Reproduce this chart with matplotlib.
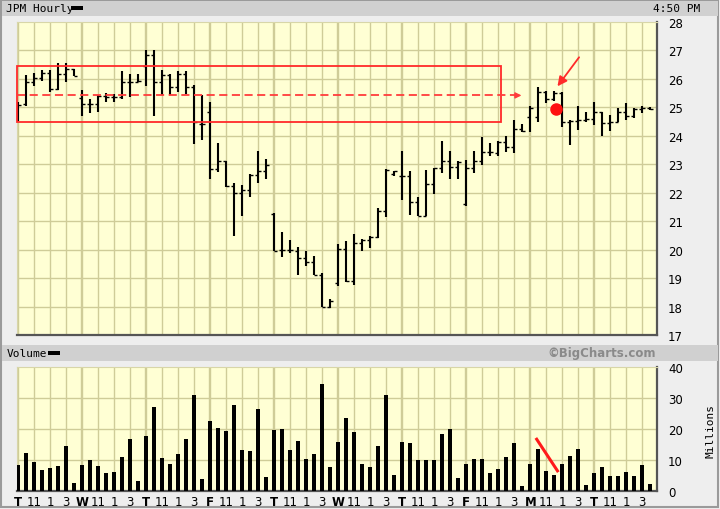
import numpy as np
import matplotlib
matplotlib.use('Agg')
import matplotlib.pyplot as plt
from matplotlib.patches import Rectangle

# hourly OHLC, 8 bars per day (9:30 .. 4 PM)
opens = [25.10, 25.12, 25.88, 26.03, 26.20, 25.65, 26.17, 26.35,
         25.32, 25.12, 25.12, 25.41, 25.38, 25.38, 25.88, 25.88,
         26.47, 26.84, 25.88, 26.14, 25.70, 26.17, 25.70, 24.41,
         24.85, 22.83, 23.13, 22.22, 21.99, 22.09, 22.62, 22.77,
         21.25, 19.99, 19.99, 19.96, 19.69, 19.57, 19.11, 18.00,
         18.82, 20.02, 18.91, 20.23, 20.35, 20.45, 21.37, 22.66,
         22.60, 22.58, 21.68, 21.19, 22.31, 22.86, 23.10, 22.89,
         21.60, 22.86, 23.10, 23.42, 23.38, 23.80, 23.60, 24.24,
         24.65, 24.65, 25.53, 25.30, 25.49, 24.47, 24.53, 24.56,
         24.60, 24.83, 24.45, 24.47, 24.85, 24.71, 24.95, 24.97]
highs = [25.18, 26.14, 26.21, 26.33, 26.33, 26.56, 26.56, 26.35,
         25.62, 25.30, 25.45, 25.50, 25.48, 26.29, 26.17, 26.17,
         27.00, 27.00, 26.33, 26.17, 26.29, 26.29, 25.79, 25.43,
         25.18, 23.75, 23.13, 22.34, 22.27, 22.66, 23.48, 23.18,
         21.30, 20.63, 20.35, 20.08, 19.96, 19.79, 19.17, 18.26,
         20.20, 20.31, 20.55, 20.39, 20.49, 21.45, 22.83, 22.77,
         23.48, 22.77, 21.84, 22.81, 22.86, 23.83, 23.48, 23.10,
         23.15, 23.45, 23.95, 23.75, 23.83, 24.00, 24.56, 24.41,
         25.06, 25.70, 25.59, 25.59, 25.53, 24.56, 25.06, 24.85,
         25.20, 24.85, 24.73, 24.97, 25.14, 24.97, 25.04, 25.02]
lows = [24.53, 25.06, 25.74, 25.94, 25.53, 25.62, 25.88, 26.09,
        24.71, 24.80, 24.85, 25.18, 25.20, 25.30, 25.38, 25.88,
        25.76, 24.71, 25.44, 25.44, 25.53, 25.47, 23.71, 23.86,
        22.48, 22.72, 22.19, 20.49, 21.17, 21.84, 22.34, 22.48,
        19.96, 19.73, 19.87, 19.12, 19.41, 19.10, 17.97, 17.95,
        18.73, 18.85, 18.75, 19.96, 20.04, 20.40, 21.13, 22.58,
        21.75, 21.22, 21.17, 21.19, 21.95, 22.68, 22.50, 22.48,
        21.54, 22.71, 22.98, 23.30, 23.30, 23.44, 23.40, 24.14,
        24.12, 24.50, 25.14, 25.23, 24.30, 23.68, 24.21, 24.50,
        24.38, 24.00, 24.18, 24.47, 24.57, 24.62, 24.79, 24.92]
closes = [25.10, 25.88, 26.03, 26.20, 25.65, 26.17, 26.35, 26.09,
          25.12, 25.12, 25.41, 25.38, 25.38, 25.88, 25.88, 25.94,
          26.84, 25.88, 26.14, 25.70, 26.17, 25.70, 24.48, 24.41,
          22.83, 23.13, 22.22, 21.99, 22.09, 22.62, 22.77, 22.97,
          19.96, 19.99, 20.00, 19.69, 19.57, 19.11, 18.00, 18.20,
          20.02, 18.91, 20.23, 20.35, 20.45, 21.37, 22.81, 22.76,
          22.58, 21.68, 21.19, 22.31, 22.86, 23.10, 22.89, 23.07,
          22.86, 23.10, 23.42, 23.42, 23.80, 23.60, 24.24, 24.18,
          24.97, 25.53, 25.30, 25.49, 24.47, 24.53, 24.56, 24.60,
          24.83, 24.45, 24.47, 24.85, 24.71, 24.95, 24.97, 24.95]
# volume in millions
volume = [8.4, 12.3, 9.4, 6.7, 7.5, 8.1, 14.6, 2.5,
          8.4, 10.1, 8.1, 5.8, 6.2, 11.0, 16.9, 3.1,
          17.8, 27.2, 10.7, 8.8, 12.0, 16.9, 31.1, 3.9,
          22.7, 20.4, 19.5, 27.6, 13.3, 13.0, 26.6, 4.5,
          19.8, 20.1, 13.3, 16.2, 10.4, 12.0, 34.4, 7.8,
          15.9, 23.4, 19.1, 8.6, 7.8, 14.6, 31.1, 5.2,
          15.9, 15.5, 10.1, 10.1, 10.1, 18.5, 20.1, 4.2,
          8.6, 10.4, 10.4, 5.8, 7.1, 11.0, 15.6, 1.6,
          8.8, 13.6, 6.5, 5.2, 8.8, 11.4, 13.6, 1.9,
          5.8, 7.8, 4.9, 4.9, 6.2, 4.9, 8.4, 2.3]
days = ['T', 'W', 'T', 'F', 'T', 'W', 'T', 'F', 'M', 'T']
hour_labels = ['11', '1', '3']
bars_per_day = 8

# red markup
box_x = [-0.16, 60.3]
box_y = [24.5, 26.44]
dash_y = 25.42
dash_end = 62.9
dot = (67.2, 24.94)
arrow_from = (70.1, 26.76)
arrow_to = (67.4, 25.74)
vol_line_x = [64.8, 67.4]
vol_line_y = [16.7, 6.5]

n = len(closes)
x = np.arange(n)
face = '#ffffd4'
grid_c = '#cfcc98'

fig = plt.figure(figsize=(7.2, 5.1), dpi=100, facecolor='#eeeeee')
W, H = 720.0, 510.0


def px_axes(l, t, r, b):
    return fig.add_axes([l / W, 1 - b / H, (r - l) / W, (b - t) / H])


# background / header strips
bg = fig.add_axes([0, 0, 1, 1])
bg.set_xlim(0, W)
bg.set_ylim(H, 0)
bg.axis('off')
bg.add_patch(Rectangle((1, 1), 717, 507, facecolor='#eeeeee', edgecolor='#9a9a9a', lw=1.5))
bg.add_patch(Rectangle((2, 2), 716, 15, facecolor='#d0d0d0', edgecolor='none'))
bg.add_patch(Rectangle((2, 346), 716, 16, facecolor='#d0d0d0', edgecolor='none'))
bg.text(6, 9.5, 'JPM Hourly', family='DejaVu Sans Mono', fontsize=8, va='center')
bg.add_patch(Rectangle((71, 7), 12, 4, facecolor='black'))
bg.text(700, 9.5, '4:50 PM', family='DejaVu Sans Mono', fontsize=8, va='center', ha='right')
bg.text(7, 354, 'Volume', family='DejaVu Sans Mono', fontsize=8, va='center')
bg.add_patch(Rectangle((48, 352), 12, 4, facecolor='black'))
bg.text(656, 354, '\u00a9BigCharts.com', fontsize=8.5, fontweight='bold', color='#8a8a8a',
        va='center', ha='right')
bg.text(711, 431, 'Millions', family='DejaVu Sans Mono', fontsize=8, rotation=90,
        va='center', ha='center')


def style(ax):
    ax.set_facecolor(face)
    ax.set_xlim(-0.16, n - 0.16)
    for d in range(len(days)):
        for k in range(4):
            p = d * bars_per_day + 2 * k
            ax.axvline(p, color=grid_c, lw=1.0, zorder=0)
            if k == 0:
                ax.axvline(p - 0.2, color=grid_c, lw=1.0, zorder=0)
    ax.spines['top'].set_color('#d8d6a8')
    ax.spines['left'].set_color('#d8d6a8')
    ax.spines['bottom'].set_color('#555555')
    ax.spines['right'].set_color('#555555')
    ax.spines['bottom'].set_linewidth(1.6)
    ax.spines['right'].set_linewidth(1.6)
    ax.yaxis.tick_right()
    ax.tick_params(axis='y', length=0, pad=8, labelsize=8.5)


# price panel
ax = px_axes(17, 23, 657, 336)
style(ax)
ax.set_ylim(17, 28)
ax.set_yticks(range(17, 29))
for p in range(18, 28):
    ax.axhline(p, color=grid_c, lw=1.0, zorder=0)
ax.set_xticks([])
ax.vlines(x, lows, highs, color='black', lw=1.5, zorder=3)
ax.hlines(opens, x - 0.38, x, color='black', lw=1.0, zorder=3)
ax.hlines(closes, x, x + 0.38, color='black', lw=1.0, zorder=3)

ax.add_patch(Rectangle((box_x[0], box_y[0]), box_x[1] - box_x[0], box_y[1] - box_y[0],
                       fill=False, edgecolor='#ff2a2a', lw=1.3, zorder=4, clip_on=False))
ax.plot([box_x[0], dash_end - 0.6], [dash_y, dash_y], color='#ff3c3c', lw=1.3,
        ls=(0, (4.5, 2.5)), zorder=4)
ax.annotate('', xy=(dash_end, dash_y), xytext=(dash_end - 0.9, dash_y),
            arrowprops=dict(arrowstyle='-|>', color='#ff3c3c', lw=1, mutation_scale=9,
                            shrinkA=0, shrinkB=0), zorder=4)
ax.plot(dot[0], dot[1], 'o', color='#ff1010', ms=8, zorder=5)
ax.annotate('', xy=arrow_to, xytext=arrow_from,
            arrowprops=dict(arrowstyle='-|>', color='#ff2a2a', lw=1.3, mutation_scale=14,
                            shrinkA=0, shrinkB=0), zorder=5)

# volume panel
av = px_axes(17, 368, 657, 492)
style(av)
av.set_ylim(0, 40)
av.set_yticks([0, 10, 20, 30, 40])
for v in [10, 20, 30]:
    av.axhline(v, color=grid_c, lw=1.0, zorder=0)
av.bar(x, volume, width=0.48, color='black', zorder=3)
av.plot(vol_line_x, vol_line_y, color='#ff1a1a', lw=2.2, zorder=4)

pos, labs = [], []
for d, day in enumerate(days):
    pos.append(d * bars_per_day)
    labs.append(day)
    for k, h in enumerate(hour_labels):
        pos.append(d * bars_per_day + 2 * (k + 1))
        labs.append(h)
av.set_xticks(pos)
av.set_xticklabels(labs)
av.tick_params(axis='x', length=0, pad=3, labelsize=8.5)
for t in av.get_xticklabels():
    if t.get_text() in days:
        t.set_fontweight('bold')

fig.savefig('out.png', dpi=100, facecolor=fig.get_facecolor())
